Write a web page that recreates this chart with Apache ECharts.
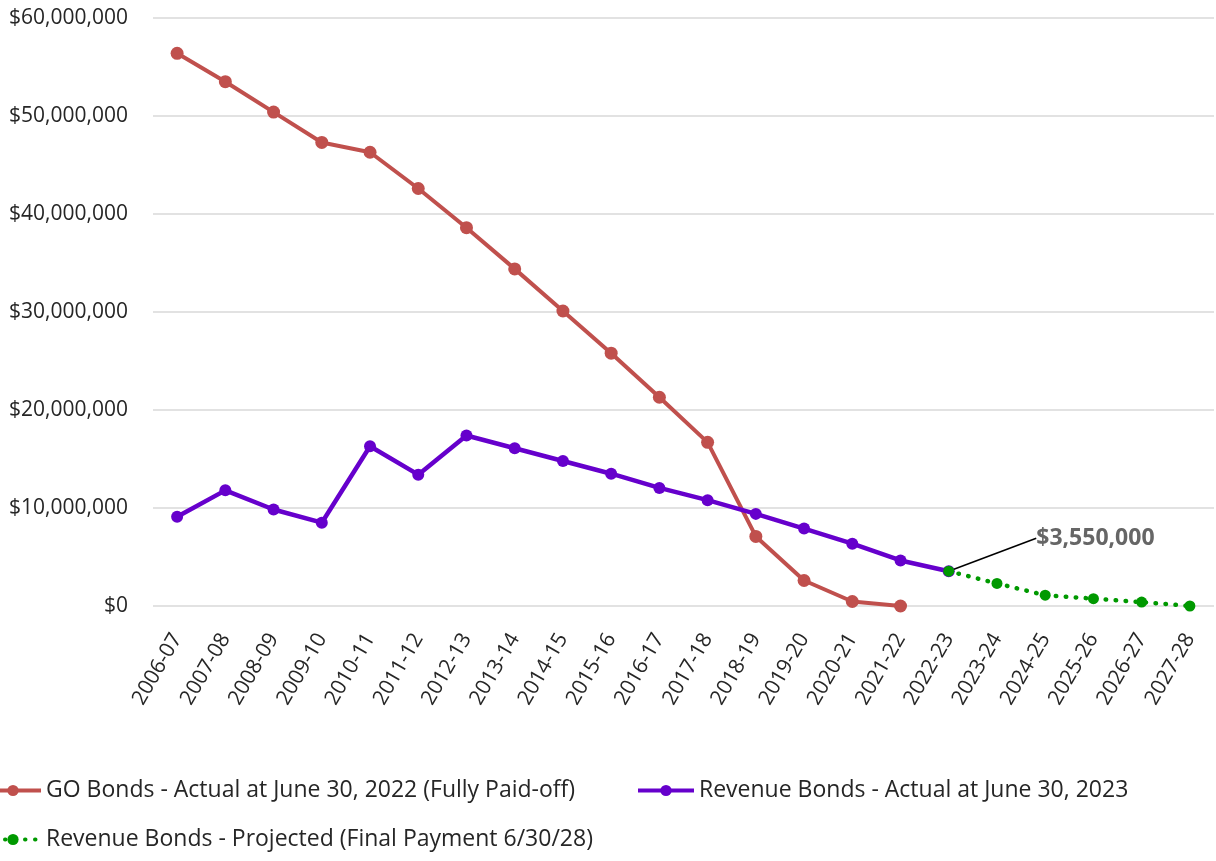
<!DOCTYPE html>
<html>
<head>
<meta charset="utf-8">
<script src="https://cdn.jsdelivr.net/npm/echarts@6/dist/echarts.min.js"></script>
<style>
  html, body { margin: 0; padding: 0; background: #fff; }
  #chart { width: 1216px; height: 861px; }
</style>
</head>
<body>
<div id="chart"></div>
<script>
const years = ['2006-07', '2007-08', '2008-09', '2009-10', '2010-11', '2011-12', '2012-13', '2013-14',
  '2014-15', '2015-16', '2016-17', '2017-18', '2018-19', '2019-20', '2020-21', '2021-22',
  '2022-23', '2023-24', '2024-25', '2025-26', '2026-27', '2027-28']

// values in dollars
const goBonds = [56400000, 53500000, 50400000, 47300000, 46300000, 42600000, 38600000, 34400000,
  30100000, 25800000, 21300000, 16700000, 7100000, 2600000, 460000, 0,
  null, null, null, null, null, null]
const revenueActual = [9100000, 11800000, 9850000, 8500000, 16300000, 13400000, 17400000, 16100000,
  14800000, 13500000, 12050000, 10800000, 9400000, 7900000, 6360000, 4650000,
  3550000, null, null, null, null, null]
const revenueProjected = [null, null, null, null, null, null, null, null,
  null, null, null, null, null, null, null, null,
  3550000, 2300000, 1100000, 750000, 400000, 0]

const yTicks = { min: 0, max: 60000000, interval: 10000000 }

const names = [
  'GO Bonds - Actual at June 30, 2022 (Fully Paid-off)',
  'Revenue Bonds - Actual at June 30, 2023',
  'Revenue Bonds - Projected (Final Payment 6/30/28)'
]

const FONT = '"Open Sans", "Noto Sans", sans-serif'
const money = v => '$' + Math.round(v).toLocaleString('en-US')

const chart = echarts.init(document.getElementById('chart'))

const legendBase = {
  orient: 'horizontal',
  padding: 0,
  itemWidth: 56,
  itemHeight: 14,
  lineStyle: { width: 4 },
  textStyle: { fontFamily: FONT, fontSize: 23, color: '#262626' },
  selectedMode: false
}

chart.setOption({
  backgroundColor: '#fff',
  animation: false,
  grid: { left: 153, right: 2, top: 18, bottom: 255, containLabel: false, outerBoundsMode: 'none' },
  legend: [
    { ...legendBase, data: [names[0]], left: -17, top: 779 },
    { ...legendBase, data: [names[1]], left: 636, top: 779 },
    { ...legendBase, data: [names[2]], left: -17, top: 828 }
  ],
  xAxis: {
    type: 'category',
    data: years,
    boundaryGap: true,
    axisLine: { show: false },
    axisTick: { show: false },
    axisLabel: {
      interval: 0, rotate: 60, margin: 29,
      fontFamily: FONT, fontSize: 21, color: '#262626'
    }
  },
  yAxis: {
    type: 'value',
    min: yTicks.min, max: yTicks.max, interval: yTicks.interval,
    axisLine: { show: false },
    axisTick: { show: false },
    axisLabel: {
      margin: 25, fontFamily: FONT, fontSize: 21, color: '#262626',
      formatter: money
    },
    splitLine: { lineStyle: { color: '#d9d9d9', width: 1.5 } }
  },
  series: [
    {
      name: names[0],
      type: 'line',
      data: goBonds,
      symbol: 'circle', symbolSize: 13,
      lineStyle: { color: '#c0504d', width: 4 },
      itemStyle: { color: '#c0504d' },
      z: 2
    },
    {
      name: names[1],
      type: 'line',
      data: revenueActual,
      symbol: 'circle', symbolSize: 12,
      lineStyle: { color: '#6600cc', width: 4.5 },
      itemStyle: { color: '#6600cc' },
      z: 3
    },
    {
      name: names[2],
      type: 'line',
      data: revenueProjected.map((v, i) => i === 16 ? {
        value: v,
        label: {
          show: true, position: 'right',
          formatter: p => money(p.value),
          padding: [0, 0, 0, 19],
          fontFamily: FONT, fontSize: 23, fontWeight: 'bold', color: '#666666'
        },
        labelLine: { show: true, lineStyle: { color: '#000', width: 1.5 } }
      } : v),
      symbol: 'circle', symbolSize: 11,
      lineStyle: { color: '#009900', width: 4.5, type: [0.5, 9.5], cap: 'round' },
      itemStyle: { color: '#009900' },
      labelLayout: { dx: 58, dy: -33 },
      z: 4
    }
  ]
})
</script>
</body>
</html>
